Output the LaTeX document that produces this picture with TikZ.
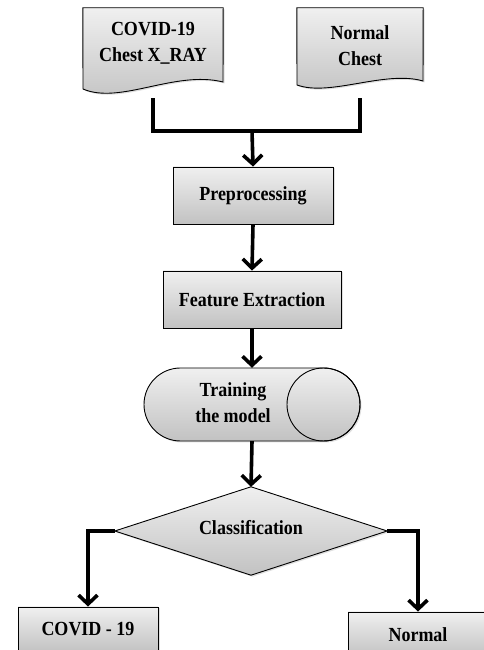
\documentclass[tikz,border=0pt]{standalone}
\usepackage{fontspec}
\setmainfont{Liberation Serif}[FakeStretch=0.9]
\usetikzlibrary{arrows.meta,shadows}
\tikzset{
  shade box/.style={top color=black!6, bottom color=black!24, draw=black, line width=0.9pt,
    drop shadow={opacity=0.25, shadow xshift=1.5pt, shadow yshift=-1.5pt}},
  procbox/.style={shade box, rectangle, inner sep=0pt, align=center,
    font=\fontsize{20}{26}\selectfont\bfseries},
  lbl/.style={inner sep=0pt, align=center, font=\fontsize{20}{26}\selectfont\bfseries},
  frame/.style={inner sep=0pt, rectangle},
  flow/.style={line width=3.6pt, line join=miter, -{Straight Barb[length=9pt,width=19pt]}},
  bar/.style={line width=3.6pt, line join=miter, line cap=rect}
}
\begin{document}
\begin{tikzpicture}[x=1pt,y=1pt]
\useasboundingbox (0,0) rectangle (484,650);
% document shapes
\node[frame, minimum width=140, minimum height=92] (docA) at (153,596) {};
\node[frame, minimum width=126, minimum height=92] (docB) at (360,596) {};
\path[shade box] (docA.north west) -- (docA.north east) -- (223,568)
  .. controls (175,580) and (120,545) .. (83,561) -- cycle;
\path[shade box] (docB.north west) -- (docB.north east) -- (423,569)
  .. controls (385,580) and (330,553) .. (297,565) -- cycle;
\node[lbl] (docAtxt) at (153,607) {COVID-19\\Chest X\_RAY};
\node[lbl] (docBtxt) at (360,604) {Normal\\Chest};
% join
\coordinate (join) at (252,519);
\draw[bar] (docA.south) |- (join);
\draw[bar] (docB.south) |- (join);
% process boxes
\node[procbox, minimum width=160, minimum height=57] (pre) at (253,454.5) {Preprocessing};
\node[procbox, minimum width=178, minimum height=57] (feat) at (252,350.5) {Feature Extraction};
\draw[flow] (join) -- (pre.north);
\draw[flow] (pre.south) -- (feat.north);
% cylinder
\node[frame, minimum width=216, minimum height=73] (train) at (252,245.5) {};
\path[shade box] (180.5,282) -- (323.5,282) arc[start angle=90, end angle=-90, radius=36.5]
  -- (180.5,209) arc[start angle=270, end angle=90, radius=36.5] -- cycle;
\draw[line width=0.9pt] (323.5,245.5) circle[radius=36.5];
\node[lbl] (traintxt) at (233,247) {Training\\the model};
\draw[flow] (feat.south) -- (train.north);
% diamond
\node[frame, minimum width=272, minimum height=88] (cls) at (251,119) {};
\path[shade box] (cls.north) -- (cls.east) -- (cls.south) -- (cls.west) -- cycle;
\node[lbl] (clstxt) at (251,122) {Classification};
\draw[flow] (train.south) -- (cls.north);
% outputs
\node[procbox, minimum width=140, minimum height=45] (cov) at (88,20.5) {COVID - 19};
\node[procbox, minimum width=140, minimum height=45] (nor) at (418,15.5) {Normal};
\draw[flow] (cls.west) -| (cov.north);
\draw[flow] (cls.east) -| (nor.north);
\end{tikzpicture}
\end{document}
